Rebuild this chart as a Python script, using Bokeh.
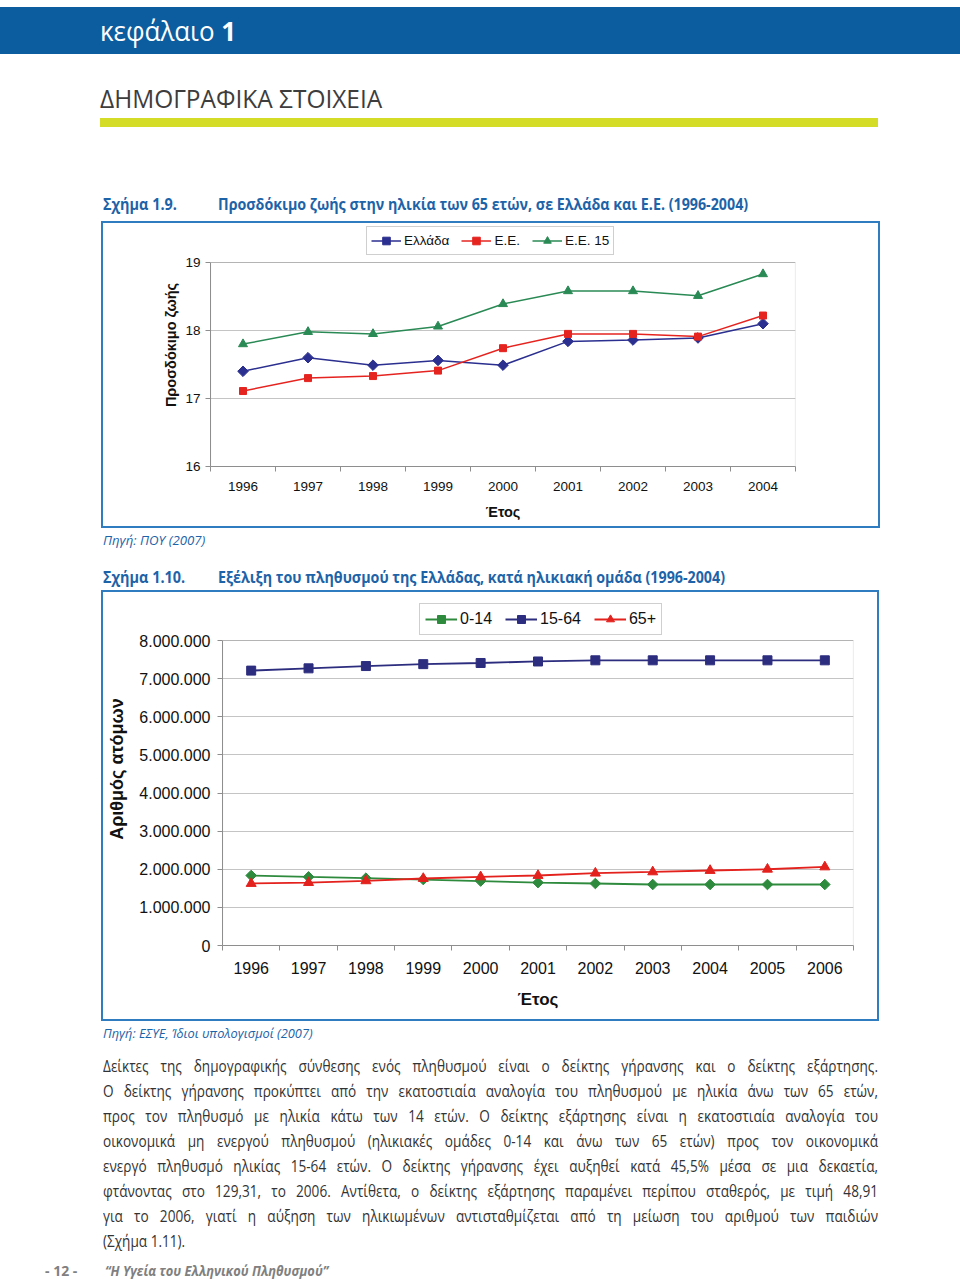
import math
from bokeh.plotting import figure
from bokeh.models import Div, FixedTicker, Legend, LegendItem, Range1d, BoxAnnotation
from bokeh.layouts import column, row
from bokeh.embed import file_html
from bokeh.resources import INLINE

# ---------------- data ----------------
years1 = [1996, 1997, 1998, 1999, 2000, 2001, 2002, 2003, 2004]
greece = [17.40, 17.60, 17.49, 17.56, 17.49, 17.84, 17.86, 17.89, 18.10]
eu = [17.11, 17.30, 17.33, 17.41, 17.74, 17.95, 17.95, 17.91, 18.22]
eu15 = [17.80, 17.98, 17.95, 18.06, 18.39, 18.58, 18.58, 18.51, 18.83]
y1_ticks = [16, 17, 18, 19]
series1_names = ["Ελλάδα", "Ε.Ε.", "Ε.Ε. 15"]

years2 = [1996, 1997, 1998, 1999, 2000, 2001, 2002, 2003, 2004, 2005, 2006]
age_0_14 = [1836000, 1800000, 1766000, 1730000, 1690000, 1650000, 1626000, 1600000, 1600000, 1600000, 1600000]
age_15_64 = [7210000, 7270000, 7330000, 7380000, 7410000, 7450000, 7480000, 7480000, 7480000, 7480000, 7480000]
age_65 = [1626000, 1650000, 1696000, 1757000, 1800000, 1836000, 1897000, 1930000, 1967000, 2000000, 2060000]
y2_ticks = [0, 1000000, 2000000, 3000000, 4000000, 5000000, 6000000, 7000000, 8000000]
y2_tick_labels = ["0", "1.000.000", "2.000.000", "3.000.000", "4.000.000",
                  "5.000.000", "6.000.000", "7.000.000", "8.000.000"]
series2_names = ["0-14", "15-64", "65+"]

BLUE_TXT = "#1d63a8"
BORDER = "#2f7dc0"
GRID = "#c4c4c4"
FRAME = "#8e8e8e"
CHART_FONT = "Liberation Sans"


def txt(s, x, yc, size, color, weight="normal", style="normal",
        family="Open Sans", sx=1.0, width=None):
    lh = round(size * 1.3)
    top = yc - lh / 2
    css = (f"position:absolute;left:{x}px;top:{top}px;font-family:'{family}';"
           f"font-size:{size}px;line-height:{lh}px;color:{color};font-weight:{weight};"
           f"font-style:{style};white-space:nowrap;transform:scaleX({sx});transform-origin:0 0;")
    if width:
        css += f"width:{width / sx}px;text-align:justify;text-align-last:justify;"
    return f'<div style="{css}">{s}</div>'


def block(h, inner):
    return f'<div style="position:relative;width:960px;height:{h}px;overflow:hidden;background:white">{inner}</div>'


def unaligned(p):
    try:
        p.frame_align = False
        return p
    except Exception:
        return row(p)


# ---------------- section A (header) ----------------
hA = 221
a = ""
a += '<div style="position:absolute;left:0;top:7px;width:960px;height:47px;background:#0b5d9f"></div>'
a += txt('κεφάλαιο <b>1</b>', 100, 30, 27, "white", sx=0.96)
a += txt("ΔΗΜΟΓΡΑΦΙΚΑ ΣΤΟΙΧΕΙΑ", 100, 98, 26, "#3d3d3d", sx=0.94)
a += '<div style="position:absolute;left:100px;top:118px;width:778px;height:9px;background:#d4dc27"></div>'
a += txt("Σχήμα 1.9.", 103, 204, 15.5, BLUE_TXT, weight="bold", sx=0.93)
a += txt("Προσδόκιμο ζωής στην ηλικία των 65 ετών, σε Ελλάδα και Ε.Ε. (1996-2004)",
         218, 204, 15.5, BLUE_TXT, weight="bold", sx=0.92)
divA = Div(text=block(hA, a), width=960, height=hA, margin=0)


def style_axes(p, years, y_lo, y_hi, label_size, tick_size, axis_size,
               xl_standoff, xa_standoff, yl_standoff, ya_standoff):
    p.background_fill_color = "white"
    p.border_fill_color = "white"
    p.outline_line_color = None
    p.xgrid.visible = False
    p.ygrid.grid_line_color = GRID
    p.ygrid.grid_line_width = 1.2
    x_lo, x_hi = years[0] - 0.5, years[-1] + 0.5
    # plot-area frame (the figure's frame also hosts the legend above it)
    p.add_layout(BoxAnnotation(left=x_lo, right=x_hi, bottom=y_lo, top=y_hi,
                               fill_alpha=0, line_color=FRAME, line_width=1.2, level="underlay"))
    bounds = [x_lo + i for i in range(len(years) + 1)]
    p.xaxis.ticker = FixedTicker(ticks=years, minor_ticks=bounds)
    p.xaxis.minor_tick_line_color = FRAME
    p.xaxis.minor_tick_in = 0
    p.xaxis.minor_tick_out = 5
    p.xaxis.major_label_standoff = xl_standoff
    p.xaxis.axis_label = "Έτος"
    p.xaxis.axis_label_standoff = xa_standoff
    p.yaxis.bounds = (y_lo, y_hi)
    p.yaxis.minor_tick_line_color = None
    p.yaxis.major_tick_in = 0
    p.yaxis.major_tick_out = 5
    p.yaxis.major_label_standoff = yl_standoff
    p.yaxis.axis_label_standoff = ya_standoff
    for ax in (p.xaxis, p.yaxis):
        ax.axis_line_color = FRAME
        ax.major_label_text_font = CHART_FONT
        ax.major_label_text_font_size = f"{tick_size}px"
        ax.major_label_text_color = "#111111"
        ax.axis_label_text_font = CHART_FONT
        ax.axis_label_text_font_style = "bold"
        ax.axis_label_text_color = "#111111"
    p.yaxis.major_tick_line_color = FRAME
    p.xaxis.major_tick_line_color = None
    p.xaxis.axis_label_text_font_size = f"{axis_size}px"
    p.yaxis.axis_label_text_font_size = f"{label_size}px"


# ---------------- chart 1 ----------------
# frame spans 243 px; the 16..19 plot area takes the lower 204 px
y1_top = 16 + 3 * 243 / 204
p1 = figure(width=779, height=307, x_range=Range1d(1995.5, 2004.5), y_range=Range1d(16, y1_top),
            output_backend="svg", toolbar_location=None,
            min_border_left=107, min_border_right=87, min_border_top=0, min_border_bottom=64,
            margin=(0, 0, 0, 101), styles={"border": f"2px solid {BORDER}"})
style_axes(p1, years1, 16, 19, 14.5, 13.5, 14.5, 9, 10, 5, 3)
p1.yaxis.ticker = FixedTicker(ticks=y1_ticks)
p1.yaxis.axis_label = "Προσδόκιμο ζωής"

c1 = ["#2b2f8f", "#e52420", "#2a8a55"]
specs1 = [(greece, "square", 7.5, math.pi / 4), (eu, "square", 7, 0), (eu15, "triangle", 9, 0)]
items1 = []
for (vals, mk, sz, ang), col, name in zip(specs1, c1, series1_names):
    l = p1.line(years1, vals, line_color=col, line_width=1.5)
    m = p1.scatter(years1, vals, marker=mk, size=sz, angle=ang, fill_color=col, line_color=col)
    items1.append(LegendItem(label=name, renderers=[l, m]))
leg1 = Legend(items=items1, orientation="horizontal", location=(156, 211), margin=0,
              padding=4, spacing=12, glyph_width=30, glyph_height=19, label_height=19,
              label_standoff=3, border_line_color="#a0a0a0", background_fill_color="white",
              label_text_font=CHART_FONT, label_text_font_size="13.5px", label_text_color="#111111")
p1.add_layout(leg1)

# ---------------- section C ----------------
hC = 62
cc = ""
cc += txt("Πηγή: ΠΟΥ (2007)", 103, 12, 13.5, BLUE_TXT, style="italic", sx=0.98)
cc += txt("Σχήμα 1.10.", 103, 49, 15.5, BLUE_TXT, weight="bold", sx=0.93)
cc += txt("Εξέλιξη του πληθυσμού της Ελλάδας, κατά ηλικιακή ομάδα (1996-2004)",
          218, 49, 15.5, BLUE_TXT, weight="bold", sx=0.92)
divC = Div(text=block(hC, cc), width=960, height=hC, margin=0)

# ---------------- chart 2 ----------------
# frame spans 353 px; the 0..8M plot area takes the lower 305 px
y2_top = 8000000 * 353 / 305
p2 = figure(width=778, height=431, x_range=Range1d(1995.5, 2006.5), y_range=Range1d(0, y2_top),
            output_backend="svg", toolbar_location=None,
            min_border_left=119, min_border_right=28, min_border_top=0, min_border_bottom=78,
            margin=(0, 0, 0, 101), styles={"border": f"2px solid {BORDER}"})
style_axes(p2, years2, 0, 8000000, 18, 16, 17, 10, 13, 7, 9)
p2.yaxis.ticker = FixedTicker(ticks=y2_ticks)
p2.yaxis.major_label_overrides = {t: lab for t, lab in zip(y2_ticks, y2_tick_labels)}
p2.yaxis.axis_label = "Αριθμός ατόμων"

c2 = ["#2e8b3e", "#2d2d7f", "#e3211d"]
specs2 = [(age_0_14, "square", 7.5, math.pi / 4), (age_15_64, "square", 9, 0), (age_65, "triangle", 10, 0)]
items2 = []
for (vals, mk, sz, ang), col, name in zip(specs2, c2, series2_names):
    l = p2.line(years2, vals, line_color=col, line_width=1.8)
    m = p2.scatter(years2, vals, marker=mk, size=sz, angle=ang, fill_color=col, line_color=col)
    items2.append(LegendItem(label=name, renderers=[l, m]))
leg2 = Legend(items=items2, orientation="horizontal", location=(197, 310), margin=0,
              padding=5, spacing=13, glyph_width=32, glyph_height=20, label_height=20,
              label_standoff=3, border_line_color="#a0a0a0", background_fill_color="white",
              label_text_font=CHART_FONT, label_text_font_size="16px", label_text_color="#111111")
p2.add_layout(leg2)

# ---------------- section E ----------------
hE = 258
para = [
    "Δείκτες της δημογραφικής σύνθεσης ενός πληθυσμού είναι ο δείκτης γήρανσης και ο δείκτης εξάρτησης.",
    "Ο δείκτης γήρανσης προκύπτει από την εκατοστιαία αναλογία του πληθυσμού με ηλικία άνω των 65 ετών,",
    "προς τον πληθυσμό με ηλικία κάτω των 14 ετών. Ο δείκτης εξάρτησης είναι η εκατοστιαία αναλογία του",
    "οικονομικά μη ενεργού πληθυσμού (ηλικιακές ομάδες 0-14 και άνω των 65 ετών) προς τον οικονομικά",
    "ενεργό πληθυσμό ηλικίας 15-64 ετών. Ο δείκτης γήρανσης έχει αυξηθεί κατά 45,5% μέσα σε μια δεκαετία,",
    "φτάνοντας στο 129,31, το 2006. Αντίθετα, ο δείκτης εξάρτησης παραμένει περίπου σταθερός, με τιμή 48,91",
    "για το 2006, γιατί η αύξηση των ηλικιωμένων αντισταθμίζεται από τη μείωση του αριθμού των παιδιών",
    "(Σχήμα 1.11).",
]
e = ""
e += txt("Πηγή: ΕΣΥΕ, Ίδιοι υπολογισμοί (2007)", 103, 12, 13.5, BLUE_TXT, style="italic", sx=0.95)
for i, line in enumerate(para):
    last = i == len(para) - 1
    e += txt(line, 103, 45 + 25 * i, 17, "#333333", sx=0.8, width=None if last else 775)
e += txt("- 12 -", 45, 250, 14, "#808080", weight="bold", sx=1.0)
e += txt("“Η Υγεία του Ελληνικού Πληθυσμού”", 105, 250, 14, "#808080", weight="bold",
         style="italic", sx=0.92)
divE = Div(text=block(hE, e), width=960, height=hE, margin=0)

page = column(divA, unaligned(p1), divC, unaligned(p2), divE, spacing=0)
open("out.html", "w").write(file_html(page, INLINE))
